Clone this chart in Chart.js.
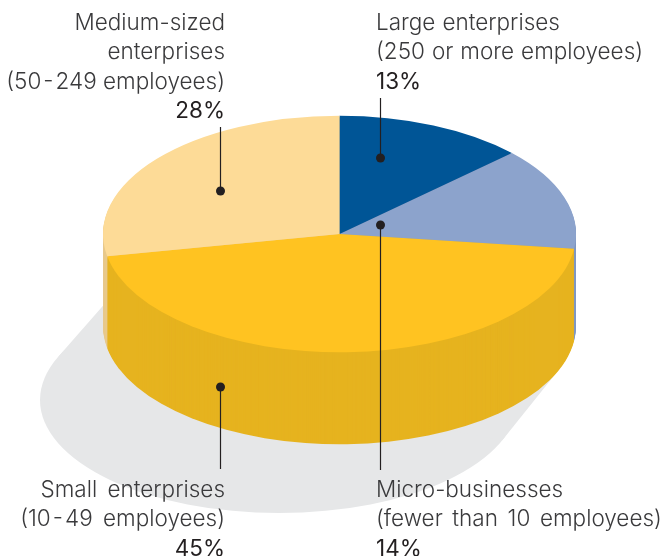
<!DOCTYPE html>
<html>
<head>
<meta charset="utf-8">
<title>Enterprises by size</title>
<style>
    html, body { margin: 0; padding: 0; background: #fff; }
    canvas { display: block; }
</style>
<script src="https://cdn.jsdelivr.net/npm/chart.js@4/dist/chart.umd.min.js"></script>
</head>
<body>
<canvas id="chart" width="664" height="556"></canvas>
<script>
    "use strict";

    var categories = ["Large enterprises", "Micro-businesses", "Small enterprises", "Medium-sized enterprises"];
    var shares = [13, 14, 45, 28];
    var labelLines = [
        ["Large enterprises", "(250 or more employees)"],
        ["Micro-businesses", "(fewer than 10 employees)"],
        ["Small enterprises", "(10\u200a-\u200a49 employees)"],
        ["Medium-sized", "enterprises", "(50\u200a-\u200a249 employees)"]
    ];
    var topColors = ["#005596", "#8CA3CC", "#FFC321", "#FDDB97"];
    var sideColors = ["#00477D", "#7F97C2", "#E6B31F", "#E8C98C"];

    var CENTER_X = 339.5, CENTER_Y = 234, RADIUS = 236.5, SQUASH = 0.5, DEPTH = 92;
    var FONT = '"Inter", sans-serif';
    var LINE_HEIGHT = 29.3;

    // where each callout sits: text anchor, first baseline, leader line and its dot
    var callouts = [
        { align: "left", x: 376, y: 30, gap: "0.7px", lineX: 380.5, from: 98, dot: 158 },
        { align: "left", x: 376, y: 497, gap: "3.3px", lineX: 380.5, from: 470, dot: 225 },
        { align: "right", x: 225, y: 497, gap: "4px", lineX: 220.5, from: 469, dot: 387 },
        { align: "right", x: 225, y: 30, gap: "0px", lineX: 220.5, from: 127, dot: 191 }
    ];

    function drawShadow(ctx) {
        ctx.save();
        ctx.fillStyle = "#E6E7E8";
        ctx.beginPath();
        ctx.ellipse(279, 400, 239, 113, 0, 0, Math.PI * 2);
        ctx.fill();
        ctx.beginPath();
        ctx.moveTo(108, 300);
        ctx.lineTo(58.5, 356.4);
        ctx.lineTo(502.3, 440.3);
        ctx.lineTo(553, 377);
        ctx.closePath();
        ctx.fill();
        ctx.restore();
    }

    // the pie is laid flat by squashing its drawing context
    function squash(ctx, chart, offset) {
        var arc = chart.getDatasetMeta(0).data[0];
        ctx.translate(CENTER_X, CENTER_Y + offset);
        ctx.scale(1, SQUASH);
        ctx.translate(-arc.x, -arc.y);
    }

    var flatPie = {
        id: "flatPie",
        beforeDatasetsDraw: function (chart) {
            var ctx = chart.ctx,
                arcs = chart.getDatasetMeta(0).data,
                i;

            drawShadow(ctx);

            // side wall: the same arcs repeated downwards in the darker colours
            for (i = DEPTH; i > 0; i -= 1) {
                ctx.save();
                squash(ctx, chart, i);
                arcs.forEach(function (arc, index) {
                    var fill = arc.options.backgroundColor;
                    arc.options.backgroundColor = sideColors[index];
                    arc.draw(ctx);
                    arc.options.backgroundColor = fill;
                });
                ctx.restore();
            }

            ctx.save();
            squash(ctx, chart, 0);
        },
        afterDatasetsDraw: function (chart) {
            chart.ctx.restore();
        },
        afterDraw: function (chart) {
            var ctx = chart.ctx;

            ctx.save();
            callouts.forEach(function (item, index) {
                var y = item.y;

                ctx.textAlign = item.align;
                ctx.textBaseline = "alphabetic";
                ctx.font = "300 22.5px " + FONT;
                ctx.wordSpacing = item.gap;
                ctx.fillStyle = "#3A3A3C";
                labelLines[index].forEach(function (line) {
                    ctx.fillText(line, item.x, y);
                    y += LINE_HEIGHT;
                });
                ctx.font = "400 22.5px " + FONT;
                ctx.fillStyle = "#231F20";
                ctx.fillText(shares[index] + "%", item.x, y);

                ctx.strokeStyle = "#231F20";
                ctx.lineWidth = 1.2;
                ctx.beginPath();
                ctx.moveTo(item.lineX, item.from);
                ctx.lineTo(item.lineX, item.dot);
                ctx.stroke();
                ctx.fillStyle = "#231F20";
                ctx.beginPath();
                ctx.arc(item.lineX, item.dot, 4.5, 0, Math.PI * 2);
                ctx.fill();
            });
            ctx.restore();
        }
    };

    new Chart(document.getElementById("chart"), {
        type: "pie",
        data: {
            labels: categories,
            datasets: [{
                data: shares,
                backgroundColor: topColors,
                borderWidth: 0,
                radius: RADIUS
            }]
        },
        options: {
            responsive: false,
            animation: false,
            events: [],
            plugins: {
                legend: { display: false },
                tooltip: { enabled: false }
            }
        },
        plugins: [flatPie]
    });
</script>
</body>
</html>
